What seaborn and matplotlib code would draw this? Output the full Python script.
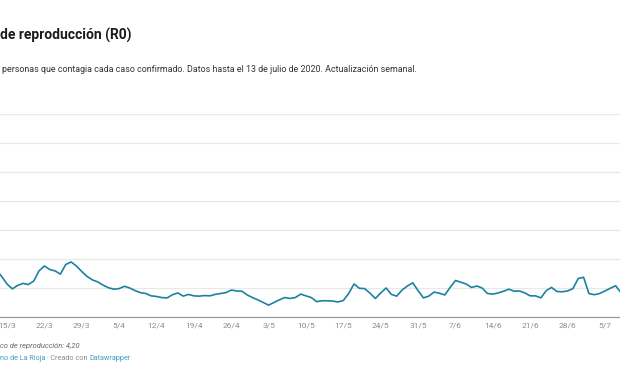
import pandas as pd
import numpy as np
import matplotlib
matplotlib.use("Agg")
import matplotlib.pyplot as plt
import matplotlib.dates as mdates
import seaborn as sns

# ==========================================
# DATA (daily R0 values from 13/3/2020)
# ==========================================
start_date = "2020-03-13"
r0_values = [
    1.62, 1.40, 1.14, 0.97, 1.09, 1.16, 1.12, 1.24, 1.59, 1.76,
    1.64, 1.59, 1.48, 1.81, 1.90, 1.76, 1.57, 1.40, 1.28, 1.21,
    1.10, 1.01, 0.96, 0.98, 1.06, 1.00, 0.91, 0.84, 0.81, 0.73,
    0.71, 0.67, 0.66, 0.77, 0.83, 0.72, 0.78, 0.73, 0.72, 0.74,
    0.73, 0.78, 0.81, 0.84, 0.93, 0.90, 0.89, 0.76, 0.67, 0.59,
    0.50, 0.41, 0.50, 0.59, 0.67, 0.64, 0.67, 0.79, 0.73, 0.67,
    0.53, 0.56, 0.56, 0.55, 0.52, 0.57, 0.81, 1.14, 0.99, 0.98,
    0.82, 0.64, 0.83, 1.00, 0.78, 0.72, 0.93, 1.07, 1.18, 0.91,
    0.66, 0.72, 0.86, 0.82, 0.76, 1.02, 1.26, 1.20, 1.14, 1.02,
    1.07, 1.00, 0.81, 0.79, 0.83, 0.89, 0.96, 0.89, 0.90, 0.83,
    0.73, 0.73, 0.66, 0.91, 1.02, 0.88, 0.87, 0.90, 0.98, 1.33,
    1.37, 0.81, 0.77, 0.81, 0.90, 0.99, 1.08, 0.84,
]
tick_dates = ["2020-03-15", "2020-03-22", "2020-03-29", "2020-04-05", "2020-04-12",
              "2020-04-19", "2020-04-26", "2020-05-03", "2020-05-10", "2020-05-17",
              "2020-05-24", "2020-05-31", "2020-06-07", "2020-06-14", "2020-06-21",
              "2020-06-28", "2020-07-05"]
tick_labels = ["15/3", "22/3", "29/3", "5/4", "12/4", "19/4", "26/4", "3/5", "10/5",
               "17/5", "24/5", "31/5", "7/6", "14/6", "21/6", "28/6", "5/7"]
y_grid = [0, 1, 2, 3, 4, 5, 6, 7]

title = "de reproducción (R0)"
subtitle = ("personas que contagia cada caso confirmado. Datos hasta el 13 de julio de 2020. "
            "Actualización semanal.")
note = "co de reproducción: 4,20"
source_parts = [("no de La Rioja", "#3e9ec2"), (" · Creado con ", "#8a8a8a"),
                ("Datawrapper", "#3e9ec2")]

df = pd.DataFrame({"fecha": pd.date_range(start_date, periods=len(r0_values), freq="D"),
                   "r0": r0_values})

# ==========================================
# PLOT
# ==========================================
sns.set_theme(style="white")
plt.rcParams['font.family'] = ['Roboto', 'DejaVu Sans']

fig = plt.figure(figsize=(6.2, 3.85), dpi=100)
ax = fig.add_axes([0.0, 0.1766, 1.0, 0.527])

sns.lineplot(data=df, x="fecha", y="r0", ax=ax, color="#1d81a2", linewidth=1.2)

# visible window: chart is cut off at both sides
base = mdates.date2num(pd.Timestamp("2020-03-15"))
ax.set_xlim(base - 1.31, base + 114.82)
ax.set_ylim(0, 7)

ax.set_yticks(y_grid)
ax.set_yticklabels([])
ax.yaxis.grid(True, color="#e8e8e8", linewidth=0.9)
ax.xaxis.grid(False)
ax.set_xticks(pd.to_datetime(tick_dates))
ax.set_xticklabels(tick_labels, fontsize=6.0, color="#8c8c8c")
ax.tick_params(axis="both", length=0, pad=4)
ax.set_xlabel("")
ax.set_ylabel("")
for side in ["top", "left", "right"]:
    ax.spines[side].set_visible(False)
ax.spines["bottom"].set_color("#9a9a9a")
ax.spines["bottom"].set_linewidth(0.9)

# texts
fig.text(0.0, 1 - 35 / 385, title, fontsize=10.0, fontweight="bold", color="#1a1a1a", va="center")
fig.text(2 / 620, 1 - 69 / 385, subtitle, fontsize=6.4, color="#333333", va="center")
fig.text(0.0, 1 - 346 / 385, note, fontsize=5.4, style="italic", color="#666666", va="center")

fig.canvas.draw()
renderer = fig.canvas.get_renderer()
x_pos = 0.0
for txt, col in source_parts:
    t = fig.text(x_pos, 1 - 359 / 385, txt, fontsize=5.2, color=col, va="center")
    bb = t.get_window_extent(renderer=renderer)
    x_pos += bb.width / fig.bbox.width

fig.savefig("out.png", dpi=100)
